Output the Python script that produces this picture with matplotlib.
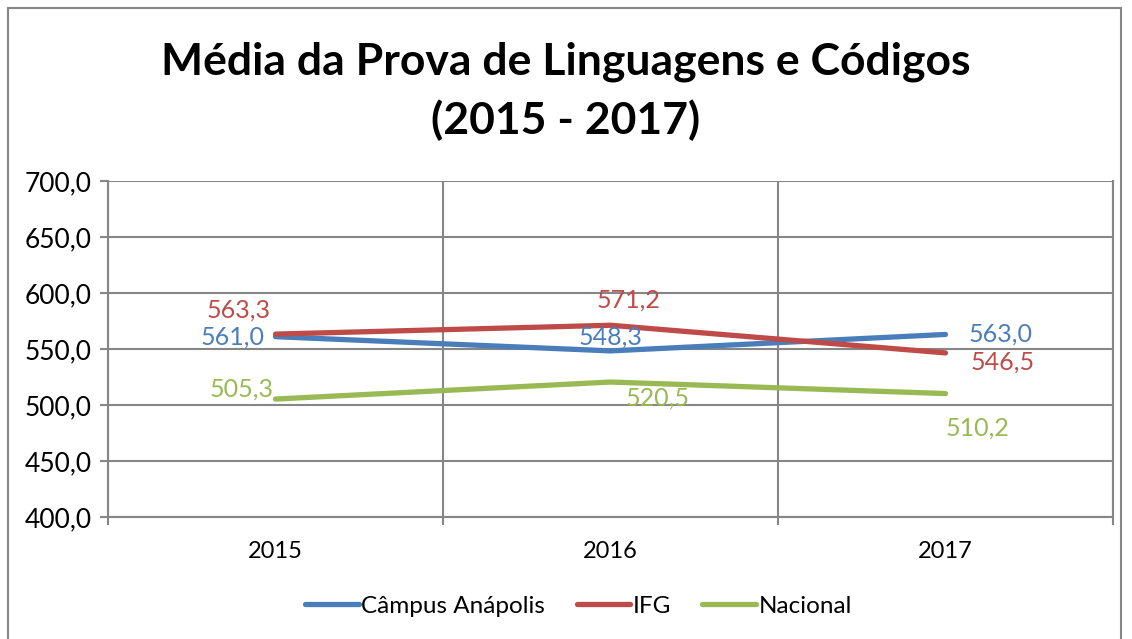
import matplotlib
matplotlib.use('Agg')
import matplotlib.pyplot as plt
from matplotlib.patches import Rectangle

plt.rcParams['font.family'] = ['Lato', 'DejaVu Sans']

years = ['2015', '2016', '2017']
campus = [561.0, 548.3, 563.0]
ifg = [563.3, 571.2, 546.5]
nacional = [505.3, 520.5, 510.2]
y_ticks = [400, 450, 500, 550, 600, 650, 700]

series = [
    ('Câmpus Anápolis', campus, '#4A7EBB'),
    ('IFG', ifg, '#BE4B48'),
    ('Nacional', nacional, '#98B954'),
]

# label offsets in pixels (dx, dy, ha) for each series/point
offsets = {
    'Câmpus Anápolis': [(-11, 0, 'right'), (0, 14, 'center'), (55, 0, 'center')],
    'IFG': [(-37, 24, 'center'), (18, 25, 'center'), (57, -9, 'center')],
    'Nacional': [(-2, 10, 'right'), (47, -16, 'center'), (32, -35, 'center')],
}

fig = plt.figure(figsize=(11.32, 6.39), dpi=100)
ax = fig.add_axes([108 / 1132, 1 - 517 / 639, 1005 / 1132, 336 / 639])

x = list(range(len(years)))
for name, vals, color in series:
    ax.plot(x, vals, color=color, lw=3.8, solid_capstyle='round', label=name, zorder=3)
    for i, v in enumerate(vals):
        dx, dy, ha = offsets[name][i]
        ax.annotate(f'{v:.1f}'.replace('.', ','), (i, v), xytext=(dx * 0.72, dy * 0.72),
                    textcoords='offset points', ha=ha, va='center',
                    color=color, fontsize=18, zorder=4)

ax.set_xlim(-0.5, len(years) - 0.5)
ax.set_ylim(400, 700)
ax.set_yticks(y_ticks)
ax.set_yticklabels([f'{t:.1f}'.replace('.', ',') for t in y_ticks], fontsize=19)
ax.set_xticks(x)
ax.set_xticklabels(years, fontsize=17)
ax.set_xticks([i - 0.5 for i in range(len(years) + 1)], minor=True)
ax.tick_params(axis='x', which='major', length=0, pad=17)
ax.tick_params(axis='x', which='minor', length=6, width=1.5, color='#868686')
ax.tick_params(axis='y', length=6, width=1.5, color='#868686', pad=6)

ax.grid(axis='y', which='major', color='#868686', lw=1.5)
ax.grid(axis='x', which='minor', color='#868686', lw=1.5)
ax.set_axisbelow(True)
ax.spines['top'].set_visible(False)
for s in ['left', 'bottom', 'right']:
    ax.spines[s].set_color('#868686')
    ax.spines[s].set_linewidth(1.5)

fig.text(0.5, 1 - 62 / 639, 'Média da Prova de Linguagens e Códigos', ha='center', va='center',
         fontsize=32, fontweight='bold')
fig.text(0.5, 1 - 120 / 639, '(2015 - 2017)', ha='center', va='center',
         fontsize=32, fontweight='bold')

fig.legend(loc='center', bbox_to_anchor=(0.511, 1 - 606 / 639), ncol=3, frameon=False,
           fontsize=17.5, handlelength=2.2, handletextpad=0.1, columnspacing=1.3)

fig.patches.append(Rectangle((8 / 1132, -0.01), 1113 / 1132, 1 - 8 / 639 + 0.01,
                             transform=fig.transFigure, fill=False, edgecolor='#868686', lw=1.5))

fig.savefig('out.png', dpi=100)
